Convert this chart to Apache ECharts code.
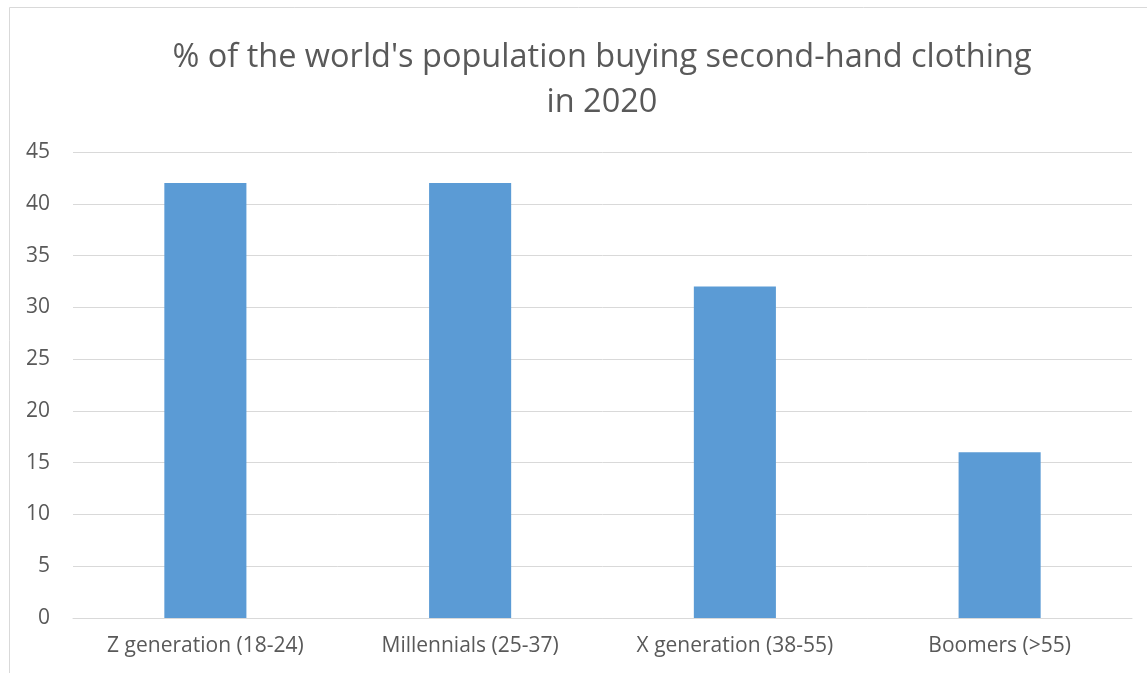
<!DOCTYPE html>
<html>
<head>
<meta charset="utf-8">
<script src="https://cdn.jsdelivr.net/npm/echarts@6/dist/echarts.min.js"></script>
<style>
  html, body { margin: 0; padding: 0; background: #fff; }
  #chart { width: 1147px; height: 673px; }
</style>
</head>
<body>
<div id="chart"></div>
<script>
const titleLines = ["% of the world's population buying second-hand clothing", "in 2020"];
const categories = ["Z generation (18-24)", "Millennials (25-37)", "X generation (38-55)", "Boomers (>55)"];
const values = [42, 42, 32, 16];
const yMin = 0, yMax = 45, yStep = 5;

const chart = echarts.init(document.getElementById('chart'));
chart.setOption({
  animation: false,
  backgroundColor: '#ffffff',
  title: {
    text: titleLines.join('\n'),
    // centred over the plot area rather than the whole canvas
    left: 597,
    textAlign: 'center',
    top: 30,
    textStyle: {
      fontFamily: 'Open Sans',
      fontSize: 32.5,
      fontWeight: 'normal',
      color: '#595959',
      lineHeight: 45
    }
  },
  graphic: [{
    type: 'rect',
    silent: true,
    shape: { x: 9.5, y: 7.5, width: 1200, height: 700 },
    style: { fill: 'none', stroke: '#d9d9d9', lineWidth: 1 }
  }],
  grid: { left: 73, right: 15, top: 152, bottom: 55, containLabel: false },
  xAxis: {
    type: 'category',
    data: categories,
    axisLine: { show: true, lineStyle: { color: '#d9d9d9', width: 1 } },
    axisTick: { show: false },
    axisLabel: { color: '#595959', fontFamily: 'Open Sans', fontSize: 21, margin: 18 }
  },
  yAxis: {
    type: 'value',
    min: yMin, max: yMax, interval: yStep,
    axisLine: { show: false },
    axisTick: { show: false },
    splitLine: { lineStyle: { color: '#d9d9d9', width: 1 } },
    axisLabel: { color: '#595959', fontFamily: 'Open Sans', fontSize: 21, margin: 23 }
  },
  series: [{
    type: 'bar',
    data: values,
    barWidth: '31%',
    itemStyle: { color: '#5b9bd5' }
  }]
});
</script>
</body>
</html>
